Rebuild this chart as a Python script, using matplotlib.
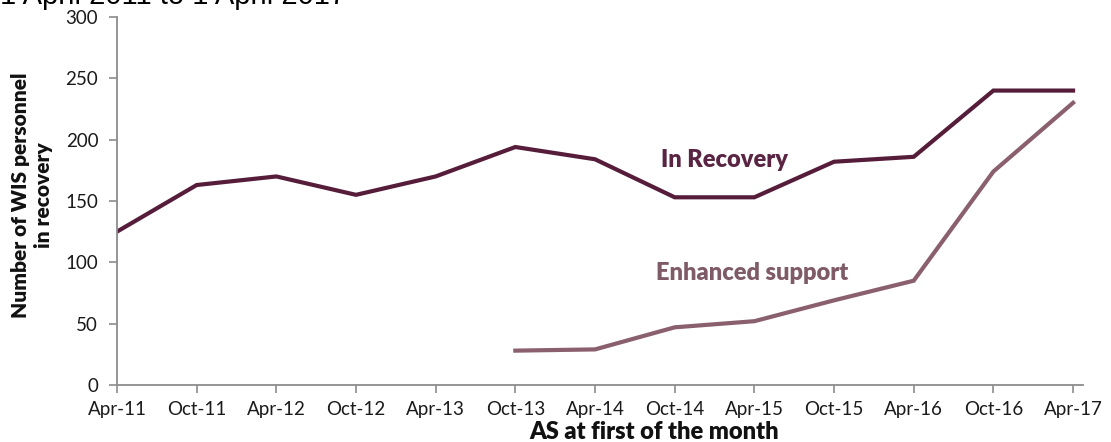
import matplotlib
matplotlib.use("Agg")
import matplotlib.pyplot as plt

months = ["Apr-11", "Oct-11", "Apr-12", "Oct-12", "Apr-13", "Oct-13", "Apr-14",
          "Oct-14", "Apr-15", "Oct-15", "Apr-16", "Oct-16", "Apr-17"]
in_recovery = [125, 163, 170, 155, 170, 194, 184, 153, 153, 182, 186, 240, 240]
enhanced_months = months[5:]
enhanced_support = [28, 29, 47, 52, 69, 85, 174, 230]

plt.rcParams["font.family"] = ["Lato", "DejaVu Sans"]

fig = plt.figure(figsize=(11.11, 4.42), dpi=100)
ax = fig.add_axes([0.1053, 0.129, 0.8695, 0.8326])

x_all = list(range(len(months)))
x_enh = [months.index(m) for m in enhanced_months]

rec_color = "#561d3b"
enh_color = "#8a5f6e"
ax.plot(x_all, in_recovery, color=rec_color, lw=3.0, solid_joinstyle="miter")
ax.plot(x_enh, enhanced_support, color=enh_color, lw=3.0, solid_joinstyle="miter")

ax.set_xlim(0, 12.125)
ax.set_ylim(0, 300)
ax.set_xticks(x_all)
ax.set_xticklabels(months)
ax.set_yticks(range(0, 301, 50))

for side in ("top", "right"):
    ax.spines[side].set_visible(False)
for side in ("left", "bottom"):
    ax.spines[side].set_color("#8c8c8c")
    ax.spines[side].set_linewidth(1.3)
ax.tick_params(axis="both", colors="#8c8c8c", length=5.5, width=1.2,
               labelsize=13.5, labelcolor="#1a1a1a", direction="out")
ax.tick_params(axis="x", pad=6)
ax.tick_params(axis="y", pad=8)

ax.set_xlabel("AS at first of the month", fontsize=17, fontweight="heavy",
              color="#111111", va="center")
ax.xaxis.set_label_coords(0.556, -0.128)
ax.set_ylabel("Number of WIS personnel\nin recovery", fontsize=15,
              fontweight="heavy", color="#111111", linespacing=1.2,
              va="center")
ax.yaxis.set_label_coords(-0.088, 0.516)

ax.text(7.63, 183, "In Recovery", fontsize=17, fontweight="heavy",
        color="#5a2443", ha="center", va="center")
ax.text(7.97, 91, "Enhanced support", fontsize=17, fontweight="heavy",
        color="#7f5b68", ha="center", va="center")

fig.text(0.0, 1 - 4 / 442, "1 April 2011 to 1 April 2017", fontsize=21,
         family="Liberation Sans", color="black", ha="left", va="baseline")

fig.savefig("out.png", dpi=100)
